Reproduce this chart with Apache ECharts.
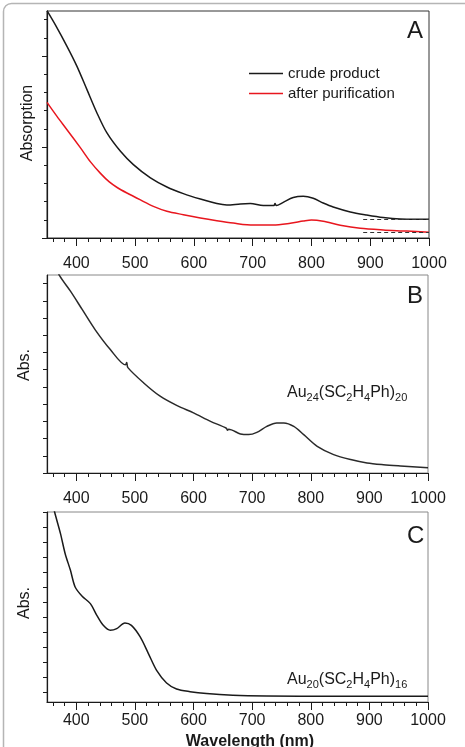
<!DOCTYPE html>
<html>
<head>
<meta charset="utf-8">
<script src="https://cdn.jsdelivr.net/npm/echarts@6/dist/echarts.min.js"></script>
<style>
    html,body{margin:0;padding:0;background:#fff;}
    #chart{width:465px;height:747px;}
</style>
</head>
<body>
<div id="chart"></div>
<script>
// panel A - crude product / after purification
let wlCrude=[350,364,384,401,418,435,452,475,497,526,554,582,611,639,656,679,696,718,736,738,740,752,769,786,803,820,837,866,894,922,951,979,1000];
let absCrude=[12.49,11.72,10.53,9.43,8.15,6.87,5.77,4.76,4.03,3.30,2.80,2.44,2.14,1.89,1.81,1.87,1.89,1.78,1.78,1.9,1.78,1.96,2.22,2.29,2.18,1.92,1.70,1.43,1.26,1.12,1.04,1.03,1.03];
let wlPure=[350,367,384,407,424,441,456,470,486,509,531,554,582,611,639,667,701,735,764,786,800,820,849,883,922,962,1000];
let absPure=[7.45,6.68,5.95,4.95,4.18,3.55,3.08,2.76,2.47,2.09,1.74,1.47,1.28,1.10,0.95,0.82,0.71,0.71,0.81,0.93,0.99,0.92,0.70,0.53,0.44,0.38,0.31];
let baseCrude=1.02;
let basePure=0.33;

// panel B - Au24
let wlAu24=[360,372,390,410,432,458,484,486,488,515,543,572,600,629,656,658,660,680,694,708,725,742,754,771,788,811,839,868,896,924,953,1000];
let absAu24=[12.3,11.43,10.56,9.50,8.33,7.17,6.28,6.42,6.12,5.23,4.46,3.91,3.49,3.00,2.60,2.48,2.54,2.27,2.23,2.36,2.71,2.91,2.91,2.71,2.23,1.55,1.07,0.78,0.58,0.48,0.41,0.31];

// panel C - Au20
let wlAu20=[356,363,373,381,390,398,410,424,435,446,458,469,483,494,509,523,537,554,571,594,622,667,724,837,1000];
let absAu20=[13.2,12.0,10.56,9.22,8.11,7.0,6.38,5.89,5.11,4.44,4.11,4.22,4.60,4.44,3.67,2.56,1.44,0.60,0.20,0.02,-0.11,-0.22,-0.27,-0.29,-0.29];

let xMajor=[400,500,600,700,800,900,1000];
let xMinor=[360,380,420,440,460,480,520,540,560,580,620,640,660,680,720,740,760,780,820,840,860,880,920,940,960,980];

let font='"Liberation Sans", Arial, sans-serif';
let ink='#1a1a1a';

function zip(a,b){
    return a.map((v,i)=>[v,b[i]]);
}

let grids=[
    {left:47,right:36,top:11,height:227,border:'#333',labelMargin:18},
    {left:47,right:37,top:275,height:198,border:'#888',labelMargin:18},
    {left:47,right:37,top:512,height:190,border:'#888',labelMargin:11},
];

let yRanges=[
    {min:0,max:12.47,major:[0,5,10],minor:[1,2,3,4,6,7,8,9,11,12],majorLen:5,minorLen:3},
    {min:0,max:11.5,major:[0,1,2,3,4,5,6,7,8,9,10,11],minor:[],majorLen:4,minorLen:4},
    {min:-0.67,max:12,major:[0,1,2,3,4,5,6,7,8,9,10,11,12],minor:[],majorLen:4,minorLen:4},
];

let xAxis=[];
let yAxis=[];
grids.forEach((g,i)=>{
    xAxis.push({
        type:'value',gridIndex:i,min:350,max:1000,position:'bottom',
        axisLine:{onZero:false,lineStyle:{color:ink,width:1.2}},
        axisTick:{customValues:xMajor,length:8,lineStyle:{color:ink}},
        axisLabel:{customValues:xMajor,color:ink,fontSize:16,fontFamily:font,margin:g.labelMargin,formatter:v=>String(v)},
        splitLine:{show:false},
    });
    xAxis.push({
        type:'value',gridIndex:i,min:350,max:1000,position:'bottom',offset:0,
        axisLine:{show:false,onZero:false},
        axisTick:{customValues:xMinor,length:4,lineStyle:{color:ink}},
        axisLabel:{show:false},
        splitLine:{show:false},
    });
    let r=yRanges[i];
    yAxis.push({
        type:'value',gridIndex:i,min:r.min,max:r.max,position:'left',
        axisLine:{show:true,onZero:false,lineStyle:{color:ink,width:1.2}},
        axisTick:{show:true,customValues:r.major,length:r.majorLen,lineStyle:{color:ink}},
        axisLabel:{show:false},
        splitLine:{show:false},
    });
    yAxis.push({
        type:'value',gridIndex:i,min:r.min,max:r.max,position:'left',offset:0,
        axisLine:{show:false,onZero:false},
        axisTick:{show:r.minor.length>0,customValues:r.minor.length?r.minor:[0],length:r.minorLen,lineStyle:{color:ink}},
        axisLabel:{show:false},
        splitLine:{show:false},
    });
});

function lineSeries(name,data,idx,color,extra){
    return Object.assign({
        name:name,type:'line',data:data,
        xAxisIndex:idx*2,yAxisIndex:idx*2,
        symbol:'none',showSymbol:false,smooth:0.3,clip:true,
        lineStyle:{color:color,width:1.5},
        itemStyle:{color:color},
    },extra||{});
}

function dashLine(y){
    return {
        symbol:'none',silent:true,
        label:{show:false},
        lineStyle:{type:[4,3],color:'#333',width:1},
        data:[[{coord:[888,y]},{coord:[1000,y]}]],
    };
}

let subRich={
    m:{fontSize:16,fontWeight:'normal',fontFamily:font,color:ink},
    s:{fontSize:11,fontWeight:'normal',fontFamily:font,color:ink,padding:[9,0,0,0]},
};

let option={
    animation:false,
    grid:grids.map(g=>({left:g.left,right:g.right,top:g.top,height:g.height,show:true,borderColor:g.border,borderWidth:1})),
    xAxis:xAxis,
    yAxis:yAxis,
    legend:{
        data:['crude product','after purification'],
        orient:'vertical',left:249,top:65,padding:0,
        icon:'rect',itemWidth:34,itemHeight:1.6,itemGap:3,
        textStyle:{fontSize:15,fontFamily:font,color:ink,lineHeight:17},
    },
    title:[
        {text:'A',left:402,top:14,textStyle:{fontSize:24,fontWeight:'normal',fontFamily:font,color:ink}},
        {text:'B',left:402,top:279,textStyle:{fontSize:24,fontWeight:'normal',fontFamily:font,color:ink}},
        {text:'C',left:402,top:519,textStyle:{fontSize:24,fontWeight:'normal',fontFamily:font,color:ink}},
        {text:'{m|Au}{s|24}{m|(SC}{s|2}{m|H}{s|4}{m|Ph)}{s|20}',left:282,top:378,textStyle:{fontWeight:'normal',rich:subRich}},
        {text:'{m|Au}{s|20}{m|(SC}{s|2}{m|H}{s|4}{m|Ph)}{s|16}',left:282,top:665,textStyle:{fontWeight:'normal',rich:subRich}},
    ],
    graphic:[
        {type:'rect',left:1,top:1,shape:{width:520,height:800,r:8},style:{fill:'none',stroke:'#b5b5b5',lineWidth:1.5},silent:true},
        {type:'text',x:28,y:123,rotation:Math.PI/2,style:{text:'Absorption',fontSize:16,fontFamily:font,fill:ink,align:'center',verticalAlign:'middle'}},
        {type:'text',x:25,y:365,rotation:Math.PI/2,style:{text:'Abs.',fontSize:16,fontFamily:font,fill:ink,align:'center',verticalAlign:'middle'}},
        {type:'text',x:25,y:603,rotation:Math.PI/2,style:{text:'Abs.',fontSize:16,fontFamily:font,fill:ink,align:'center',verticalAlign:'middle'}},
        {type:'text',x:250,y:742,style:{text:'Wavelength (nm)',fontSize:16,fontWeight:'bold',fontFamily:font,fill:ink,align:'center',verticalAlign:'middle'}},
    ],
    series:[
        lineSeries('crude product',zip(wlCrude,absCrude),0,'#1a1a1a',{markLine:dashLine(baseCrude)}),
        lineSeries('after purification',zip(wlPure,absPure),0,'#e8161e',{markLine:dashLine(basePure)}),
        lineSeries('Au24',zip(wlAu24,absAu24),1,'#2a2a2a'),
        lineSeries('Au20',zip(wlAu20,absAu20),2,'#1a1a1a'),
    ],
};

let myChart=echarts.init(document.getElementById('chart'));
myChart.setOption(option);
</script>
</body>
</html>
